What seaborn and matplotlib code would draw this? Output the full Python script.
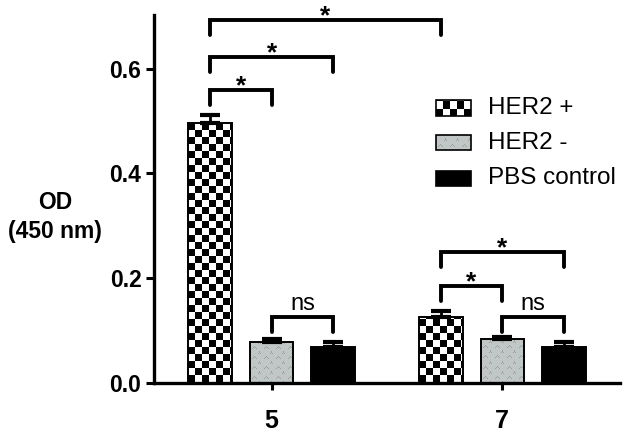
import numpy as np
import pandas as pd
import matplotlib
matplotlib.use("Agg")
import matplotlib.pyplot as plt
import matplotlib.transforms as mtrans
from matplotlib.patches import Rectangle
import seaborn as sns

days = ["5", "7"]
groups = ["HER2 +", "HER2 -", "PBS control"]
od_her2_pos = [0.497, 0.126]
od_her2_neg = [0.078, 0.083]
od_pbs = [0.067, 0.067]
err_her2_pos = [0.014, 0.010]
err_her2_neg = [0.005, 0.004]
err_pbs = [0.011, 0.010]
y_ticks = [0.0, 0.2, 0.4, 0.6]

# significance brackets: (day a, group a, day b, group b, label, bracket height)
comparisons = [
    ("5", "HER2 +", "7", "HER2 +", "*", 0.694),
    ("5", "HER2 +", "5", "PBS control", "*", 0.623),
    ("5", "HER2 +", "5", "HER2 -", "*", 0.560),
    ("5", "HER2 -", "5", "PBS control", "ns", 0.125),
    ("7", "HER2 +", "7", "PBS control", "*", 0.250),
    ("7", "HER2 +", "7", "HER2 -", "*", 0.185),
    ("7", "HER2 -", "7", "PBS control", "ns", 0.125),
]

df = pd.DataFrame({
    "day": days * 3,
    "group": np.repeat(groups, len(days)),
    "od": od_her2_pos + od_her2_neg + od_pbs,
    "err": err_her2_pos + err_her2_neg + err_pbs,
})

sns.set_style("ticks", {"axes.edgecolor": "black", "text.color": "black",
                        "xtick.color": "black", "ytick.color": "black",
                        "axes.labelcolor": "black"})
plt.rcParams["font.family"] = ["Liberation Sans", "DejaVu Sans"]


def make_checker(cell=7):
    i, j = np.indices((2 * cell, 2 * cell))
    v = ((i // cell + j // cell) % 2).astype(float)
    return np.dstack([v, v, v])


def make_dotted():
    base = np.array([0.76, 0.78, 0.78])
    mark = np.array([0.60, 0.63, 0.63])
    tile = np.tile(base, (10, 12, 1))
    for r, c in [(3, 2), (4, 3), (5, 4), (4, 5), (3, 6), (8, 8), (9, 9), (8, 10), (0, 9)]:
        tile[r, c] = mark
    return tile


def texture_fill(ax, patch, tile):
    bb = patch.get_extents()
    w = max(int(round(bb.width)), 1)
    h = max(int(round(bb.height)), 1)
    reps = (h // tile.shape[0] + 2, w // tile.shape[1] + 2, 1)
    img = np.tile(tile, reps)[:h, :w]
    x0, y0 = patch.get_xy()
    im = ax.imshow(img, extent=(x0, x0 + patch.get_width(), y0, y0 + patch.get_height()),
                   origin="lower", aspect="auto", interpolation="nearest",
                   transform=patch.get_data_transform(), zorder=patch.get_zorder() - 0.01)
    im.set_clip_path(patch)
    patch.set_facecolor("none")


fig = plt.figure(figsize=(6.25, 4.32), dpi=100)
ax = fig.add_axes([154 / 625, 49.5 / 432, 466 / 625, 367.5 / 432])

sns.barplot(data=df, x="day", y="od", hue="group", order=days, hue_order=groups,
            palette=["white", "#c2c6c6", "black"], errorbar=None, width=0.8, gap=0.29,
            edgecolor="black", linewidth=1.4, legend=False, ax=ax)

ax.set_xlim(-0.51, 1.51)
ax.set_ylim(0, 0.703)

textures = [make_checker(), make_dotted(), None]
centers = {}
for gi, g in enumerate(groups):
    cont = ax.containers[gi]
    xs, tops = [], []
    for di, bar in enumerate(cont):
        bar.set_zorder(2)
        x = bar.get_x() + bar.get_width() / 2
        centers[(days[di], g)] = (x, bar.get_height())
        xs.append(x)
        tops.append(bar.get_height())
        if textures[gi] is not None:
            texture_fill(ax, bar, textures[gi])
    errs = df.loc[df["group"] == g, "err"].to_numpy()
    ax.errorbar(xs, tops, yerr=[np.zeros(len(errs)), errs], fmt="none", ecolor="black",
                elinewidth=2, capsize=7.5, capthick=3, zorder=3)

# brackets
leg = 0.029
star_off = mtrans.offset_copy(ax.transData, fig=fig, x=0, y=-2.5, units="points")
ns_off = mtrans.offset_copy(ax.transData, fig=fig, x=0, y=5, units="points")
for da, ga, db, gb, label, yb in comparisons:
    xa = centers[(da, ga)][0]
    xb = centers[(db, gb)][0]
    ax.plot([xa, xa, xb, xb], [yb - leg, yb, yb, yb - leg], color="black", lw=2.8,
            solid_joinstyle="miter", clip_on=False, zorder=4)
    if label == "*":
        ax.text((xa + xb) / 2, yb, "*", ha="center", va="baseline", fontsize=19,
                fontweight="bold", transform=star_off, clip_on=False)
    else:
        ax.text((xa + xb) / 2, yb, label, ha="center", va="baseline", fontsize=17,
                transform=ns_off, clip_on=False)

# legend drawn by hand so swatches can carry the textures
legend_rows = [0.747, 0.652, 0.556]
swatch_colors = ["white", "#c2c6c6", "black"]
for gi, g in enumerate(groups):
    r = Rectangle((0.605, legend_rows[gi] - 0.0205), 0.075, 0.041, transform=ax.transAxes,
                  facecolor=swatch_colors[gi], edgecolor="black", lw=1.2, clip_on=False, zorder=5)
    ax.add_patch(r)
    if textures[gi] is not None:
        texture_fill(ax, r, textures[gi])
    ax.text(0.717, legend_rows[gi], g, transform=ax.transAxes, ha="left", va="center",
            fontsize=17.5)

ax.set_xlim(-0.51, 1.51)
ax.set_ylim(0, 0.703)
ax.set_yticks(y_ticks)
ax.set_yticklabels([f"{t:.1f}" for t in y_ticks], fontsize=16.5, fontweight="bold")
ax.set_xticks(range(len(days)))
ax.set_xticklabels(days, fontsize=18, fontweight="bold")
ax.set_xlabel("")
ax.set_ylabel("OD\n(450 nm)", rotation=0, fontsize=16.5, fontweight="bold",
              ha="center", va="center", linespacing=1.3)
ax.yaxis.set_label_coords(-0.212, 0.450)

sns.despine(ax=ax)
for s in ["left", "bottom"]:
    ax.spines[s].set_linewidth(2.4)
ax.tick_params(axis="y", length=6, width=2.2, pad=3)
ax.tick_params(axis="x", length=5, width=2.2, pad=14)

fig.savefig("out.png", dpi=100)
